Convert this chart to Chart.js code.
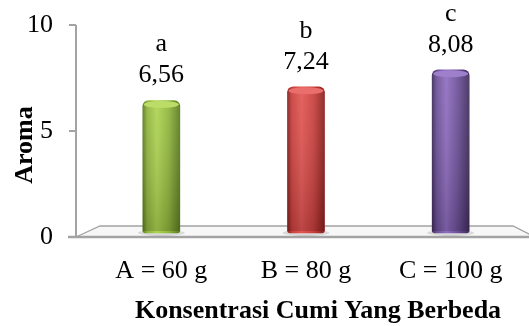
<!DOCTYPE html>
<html>
<head>
<meta charset="utf-8">
<script src="https://cdn.jsdelivr.net/npm/chart.js@4/dist/chart.umd.min.js"></script>
<style>
html, body { margin: 0; padding: 0; background: #fff; }
#wrap { width: 529px; height: 326px; }
</style>
</head>
<body>
<div id="wrap"><canvas id="chart"></canvas></div>
<script>
var categories = ['A = 60 g', 'B = 80 g', 'C = 100 g'];
var aroma = [6.56, 7.24, 8.08];
var letters = ['a', 'b', 'c'];
var yTicks = [0, 5, 10];
var xTitle = 'Konsentrasi Cumi Yang Berbeda';
var yTitle = 'Aroma';

var FONT = 'Liberation Serif';
var FS = 26;
var GREY = '#a3a3a3';
var BAR_W = 37;

var shades = [
	{edge: '#5c7c20', mid: '#8fb53b', light: '#aed451', cap: '#bcdc68'},
	{edge: '#8a1e1c', mid: '#c9403d', light: '#e35552', cap: '#ea6e6b'},
	{edge: '#3f2d5c', mid: '#6c4f98', light: '#8f6dc0', cap: '#9d7fcb'}
];

Chart.defaults.font.family = FONT;
Chart.defaults.font.size = FS;
Chart.defaults.color = '#000';

function barFill(ctx) {
	var chart = ctx.chart;
	var s = shades[ctx.dataIndex];
	if (!chart.chartArea) return s.mid;
	var x = chart.scales.x.getPixelForValue(ctx.dataIndex);
	var g = chart.ctx.createLinearGradient(x - BAR_W / 2, 0, x + BAR_W / 2, 0);
	g.addColorStop(0, s.edge);
	g.addColorStop(0.12, s.mid);
	g.addColorStop(0.38, s.light);
	g.addColorStop(0.7, s.mid);
	g.addColorStop(1, s.edge);
	return g;
}

// floor, axis line, shadows and labels that Excel draws round the cylinders
var decor = {
	id: 'decor',
	beforeDatasetsDraw: function(chart) {
		var c = chart.ctx, a = chart.chartArea, y = chart.scales.y;
		var ax = a.left - 13;
		var front = y.getPixelForValue(0);
		var back = front - 11;
		c.save();
		c.beginPath();
		c.moveTo(ax, front);
		c.lineTo(ax + 24, back);
		c.lineTo(a.right - 10, back);
		c.lineTo(chart.width + 6, front);
		c.closePath();
		c.fillStyle = '#f7f7f7';
		c.fill();
		c.strokeStyle = GREY;
		c.lineWidth = 1.3;
		c.stroke();
		// vertical axis
		c.beginPath();
		c.moveTo(ax, y.getPixelForValue(10));
		c.lineTo(ax, front);
		c.lineWidth = 2;
		c.stroke();
		yTicks.forEach(function(v) {
			var py = y.getPixelForValue(v);
			c.beginPath();
			c.moveTo(ax - 7, py);
			c.lineTo(ax, py);
			c.stroke();
		});
		c.beginPath();
		c.moveTo(ax - 8, front);
		c.lineTo(chart.width, front);
		c.lineWidth = 2.5;
		c.stroke();
		// soft shadows under the bars
		chart.getDatasetMeta(0).data.forEach(function(el) {
			c.beginPath();
			c.ellipse(el.x, el.base, BAR_W / 2 + 5, 3, 0, 0, Math.PI * 2);
			c.fillStyle = 'rgba(0,0,0,0.12)';
			c.fill();
		});
		c.restore();
	},
	afterDatasetsDraw: function(chart) {
		var c = chart.ctx;
		c.save();
		chart.getDatasetMeta(0).data.forEach(function(el, i) {
			var s = shades[i];
			// darken toward the floor
			var g = c.createLinearGradient(0, el.y, 0, el.base);
			g.addColorStop(0, 'rgba(255,255,255,0.08)');
			g.addColorStop(1, 'rgba(0,0,0,0.18)');
			c.fillStyle = g;
			c.fillRect(el.x - BAR_W / 2, el.y + 5, BAR_W, el.base - el.y - 7);
			// top cap
			c.beginPath();
			c.ellipse(el.x, el.y + 4, BAR_W / 2 - 1, 3.5, 0, 0, Math.PI * 2);
			c.fillStyle = s.cap;
			c.fill();
			c.fillStyle = '#000';
			c.font = FS + 'px ' + FONT;
			c.textAlign = 'center';
			c.textBaseline = 'middle';
			c.fillText(letters[i], el.x, el.y - 56);
			c.fillText(aroma[i].toFixed(2).replace('.', ','), el.x, el.y - 25);
		});
		c.restore();
	},
	afterDraw: function(chart) {
		var c = chart.ctx, a = chart.chartArea;
		c.save();
		c.fillStyle = '#000';
		c.font = 'bold ' + FS + 'px ' + FONT;
		c.textAlign = 'center';
		c.textBaseline = 'middle';
		c.fillText(xTitle, (a.left + a.right) / 2 + 12, 311);
		c.translate(25, (a.top + a.bottom) / 2 + 14);
		c.rotate(-Math.PI / 2);
		c.fillText(yTitle, 0, 0);
		c.restore();
	}
};

new Chart(document.getElementById('chart'), {
	type: 'bar',
	data: {
		labels: categories,
		datasets: [{
			data: aroma,
			yAxisID: 'yb',
			backgroundColor: barFill,
			barThickness: BAR_W,
			borderRadius: {topLeft: 6, topRight: 6, bottomLeft: 3, bottomRight: 3},
			borderSkipped: false
		}]
	},
	options: {
		responsive: true,
		maintainAspectRatio: false,
		animation: false,
		layout: {padding: {top: 25, right: 6, left: 0, bottom: 0}},
		plugins: {legend: {display: false}, tooltip: {enabled: false}},
		scales: {
			x: {
				grid: {display: false, drawTicks: false},
				border: {display: false},
				ticks: {padding: 19, maxRotation: 0, autoSkip: false, font: {size: FS, family: FONT}},
				afterFit: function(s) { s.height = 89; }
			},
			y: {
				position: 'left',
				min: 0,
				max: 10,
				grid: {display: false, drawTicks: false},
				border: {display: false},
				ticks: {padding: 36, font: {size: FS, family: FONT}},
				afterBuildTicks: function(s) {
					s.ticks = yTicks.map(function(v) { return {value: v}; });
				},
				afterFit: function(s) {
					s.width = 89;
					s.paddingTop = 0;
					s.paddingBottom = 0;
				}
			},
			yb: {
				display: false,
				min: -0.2,
				max: 10.3
			}
		}
	},
	plugins: [decor]
});
</script>
</body>
</html>
